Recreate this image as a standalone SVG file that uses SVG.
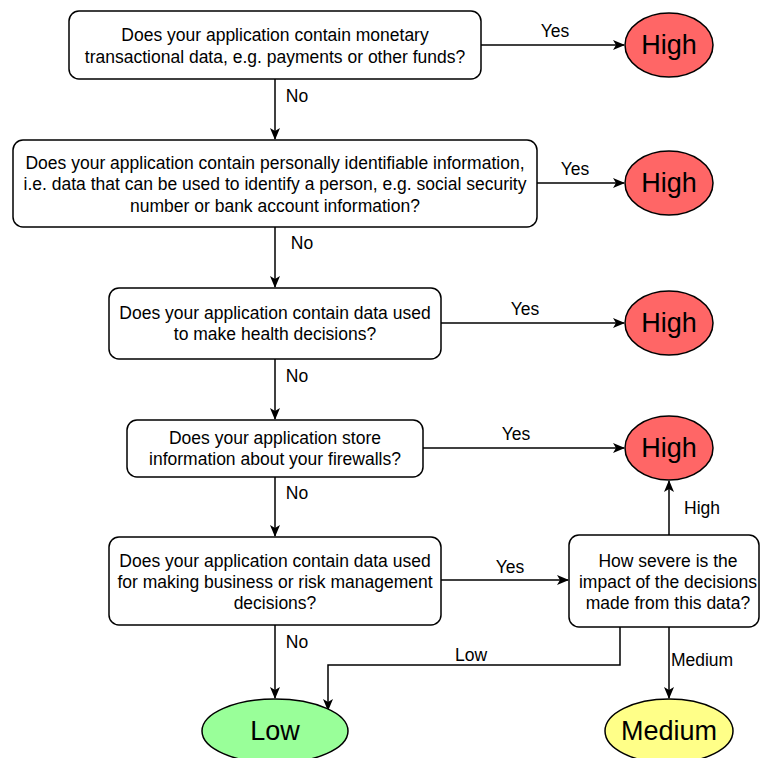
<svg xmlns="http://www.w3.org/2000/svg" width="760" height="758" viewBox="0 0 760 758">
<defs>
<marker id="arr" markerWidth="12" markerHeight="10" viewBox="0 0 12 10" refX="11" refY="5" orient="auto" markerUnits="userSpaceOnUse">
<path d="M0,0 L12,5 L0,10 L3,5 Z" fill="#000"/>
</marker>
</defs>
<style>
.box{fill:#fff;stroke:#000;stroke-width:1.5}
.t{font-family:"Liberation Sans",Arial,sans-serif;font-size:17.5px;fill:#000;text-anchor:middle}
.lbl{font-family:"Liberation Sans",Arial,sans-serif;font-size:17.5px;fill:#000;text-anchor:middle}
.big{font-family:"Liberation Sans",Arial,sans-serif;font-size:27px;fill:#000;text-anchor:middle}
.c{fill:none;stroke:#000;stroke-width:1.5;marker-end:url(#arr)}
.high{fill:#FF6666;stroke:#000;stroke-width:1.5}
.low{fill:#99FF99;stroke:#000;stroke-width:1.5}
.med{fill:#FFFF88;stroke:#000;stroke-width:1.5}
</style>
<rect width="760" height="758" fill="#fff"/>
<g id="connectors">
<path class="c" d="M481,45 L624,45"/>
<path class="c" d="M275,79 L275,139"/>
<path class="c" d="M537,183 L624,183"/>
<path class="c" d="M275,227 L275,287"/>
<path class="c" d="M441,323 L624,323"/>
<path class="c" d="M275,359 L275,419"/>
<path class="c" d="M423,448 L624,448"/>
<path class="c" d="M275,477 L275,536"/>
<path class="c" d="M441,580 L568,580"/>
<path class="c" d="M669,535 L669,481"/>
<path class="c" d="M669,627 L669,698"/>
<path class="c" d="M620,627 L620,665 L328,665 L328,710"/>
<path class="c" d="M275,625 L275,698"/>
<text class="lbl" x="555" y="37">Yes</text>
<text class="lbl" x="297" y="102">No</text>
<text class="lbl" x="575" y="175">Yes</text>
<text class="lbl" x="302" y="249">No</text>
<text class="lbl" x="525" y="315">Yes</text>
<text class="lbl" x="297" y="382">No</text>
<text class="lbl" x="516" y="440">Yes</text>
<text class="lbl" x="297" y="499">No</text>
<text class="lbl" x="510" y="573">Yes</text>
<text class="lbl" x="702" y="514">High</text>
<text class="lbl" x="702" y="666">Medium</text>
<text class="lbl" x="471" y="661">Low</text>
<text class="lbl" x="297" y="648">No</text>
</g>
<g id="q1">
<rect class="box" x="69" y="11" width="412" height="68" rx="10"/>
<text class="t" x="275" y="41">Does your application contain monetary</text>
<text class="t" x="275" y="63">transactional data, e.g. payments or other funds?</text>
</g>
<g id="q2">
<rect class="box" x="13" y="140" width="524" height="87" rx="10"/>
<text class="t" x="275" y="169">Does your application contain personally identifiable information,</text>
<text class="t" x="275" y="190">i.e. data that can be used to identify a person, e.g. social security</text>
<text class="t" x="275" y="212">number or bank account information?</text>
</g>
<g id="q3">
<rect class="box" x="109" y="288" width="332" height="71" rx="10"/>
<text class="t" x="275" y="319">Does your application contain data used</text>
<text class="t" x="275" y="340">to make health decisions?</text>
</g>
<g id="q4">
<rect class="box" x="127" y="420" width="296" height="57" rx="10"/>
<text class="t" x="275" y="444">Does your application store</text>
<text class="t" x="275" y="465">information about your firewalls?</text>
</g>
<g id="q5">
<rect class="box" x="109" y="537" width="332" height="88" rx="10"/>
<text class="t" x="275" y="567">Does your application contain data used</text>
<text class="t" x="275" y="588">for making business or risk management</text>
<text class="t" x="275" y="609">decisions?</text>
</g>
<g id="q6">
<rect class="box" x="569" y="535" width="190" height="92" rx="10"/>
<text class="t" x="668" y="567">How severe is the</text>
<text class="t" x="668" y="588">impact of the decisions</text>
<text class="t" x="668" y="609">made from this data?</text>
</g>
<g id="high1">
<ellipse class="high" cx="669" cy="45" rx="44" ry="32"/>
<text class="big" x="669" y="54">High</text>
</g>
<g id="high2">
<ellipse class="high" cx="669" cy="183" rx="44" ry="32"/>
<text class="big" x="669" y="192">High</text>
</g>
<g id="high3">
<ellipse class="high" cx="669" cy="323" rx="44" ry="32"/>
<text class="big" x="669" y="332">High</text>
</g>
<g id="high4">
<ellipse class="high" cx="669" cy="448" rx="44" ry="32"/>
<text class="big" x="669" y="457">High</text>
</g>
<g id="low">
<ellipse class="low" cx="275" cy="731" rx="73" ry="32"/>
<text class="big" x="275" y="740">Low</text>
</g>
<g id="medium">
<ellipse class="med" cx="669" cy="731" rx="64" ry="32"/>
<text class="big" x="669" y="740">Medium</text>
</g>
</svg>
